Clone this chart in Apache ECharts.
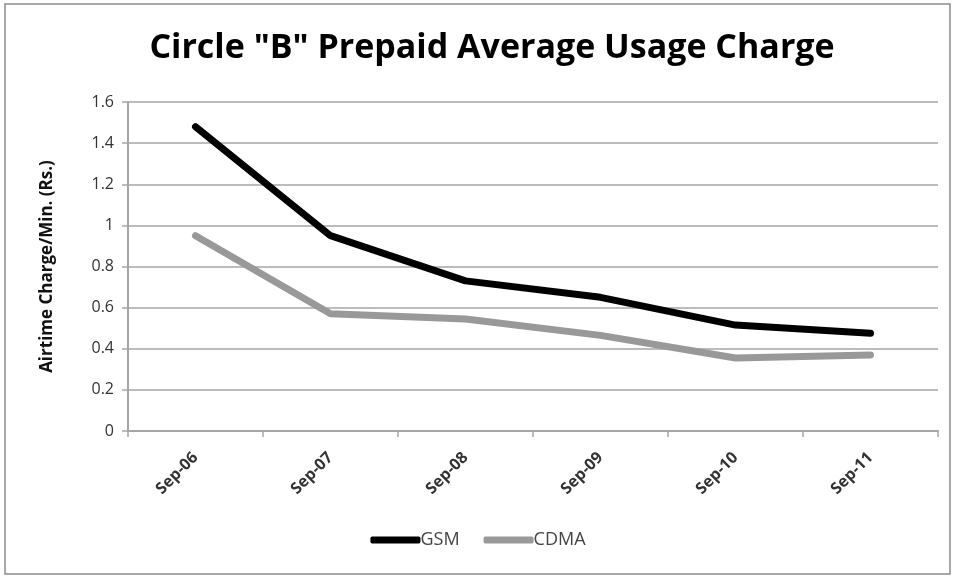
<!DOCTYPE html>
<html><head><meta charset="utf-8">
<script src="https://cdn.jsdelivr.net/npm/echarts@6/dist/echarts.min.js"></script>
<style>html,body{margin:0;padding:0;background:#fff}#c{width:956px;height:579px}</style>
</head><body><div id="c"></div>
<script>
const categories = ['Sep-06','Sep-07','Sep-08','Sep-09','Sep-10','Sep-11'];
const gsm = [1.48, 0.95, 0.73, 0.65, 0.515, 0.475];
const cdma = [0.95, 0.57, 0.545, 0.465, 0.355, 0.37];
const titleText = 'Circle "B" Prepaid Average Usage Charge';
const yAxisName = 'Airtime Charge/Min. (Rs.)';

const chart = echarts.init(document.getElementById('c'));
const font = '"Open Sans", "Liberation Sans", sans-serif';
chart.setOption({
  animation: false,
  graphic: [{type:'rect', shape:{x:5,y:4,width:945,height:570}, style:{fill:'none', stroke:'#8c8c8c', lineWidth:1.5}}],
  title: {text: titleText, left: 487, textAlign:'center', top: 26,
    textStyle:{fontFamily:font, fontSize:34, fontWeight:'bold', color:'#000'}},
  legend: {bottom: 25, left: 'center', itemWidth: 50, itemHeight: 7, itemGap: 24,
    icon: 'roundRect',
    textStyle:{fontFamily:font, fontSize:18, color:'#444', padding:[0,0,0,-5]},
    data:['GSM','CDMA']},
  grid: {left: 128, right: 18, top: 102, bottom: 148},
  xAxis: {type:'category', data: categories, boundaryGap: true,
    axisLine:{lineStyle:{color:'#a6a6a6', width:2}},
    axisTick:{show:true, length:6, lineStyle:{color:'#a6a6a6', width:1.5}},
    axisLabel:{rotate:45, fontFamily:font, fontSize:16, fontWeight:'bold', color:'#333', margin:24}},
  yAxis: {type:'value', min:0, max:1.6, interval:0.2,
    name: yAxisName, nameLocation:'middle', nameGap: 72, nameRotate: 90,
    nameTextStyle:{fontFamily:font, fontSize:17, fontWeight:'bold', color:'#111'},
    axisLine:{show:true, lineStyle:{color:'#a6a6a6', width:2}},
    axisTick:{show:true, inside:false, length:6, lineStyle:{color:'#a6a6a6', width:1.5}},
    splitLine:{lineStyle:{color:'#a6a6a6', width:1.5}},
    axisLabel:{fontFamily:font, fontSize:16, color:'#333', margin:14,
      formatter: v => String(Math.round(v*10)/10)}},
  series: [
    {name:'GSM', type:'line', data: gsm, symbol:'none', lineStyle:{color:'#000', width:7, cap:'round', join:'round'}, itemStyle:{color:'#000'}},
    {name:'CDMA', type:'line', data: cdma, symbol:'none', lineStyle:{color:'#999', width:7, cap:'round', join:'round'}, itemStyle:{color:'#999'}}
  ]
});
</script></body></html>
